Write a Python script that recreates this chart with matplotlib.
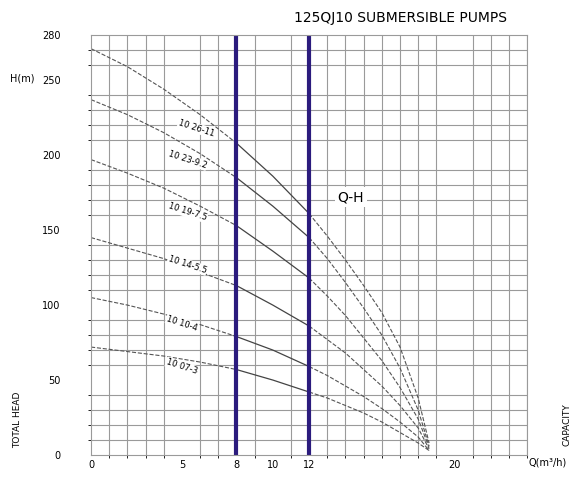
import matplotlib
matplotlib.use("Agg")
import matplotlib.pyplot as plt
import numpy as np

Q = [0, 2, 4, 6, 8, 10, 12, 13, 14, 15, 16, 17, 18, 18.6]
labels = ["10 26-11", "10 23-9.2", "10 19-7.5", "10 14-5.5", "10 10-4", "10 07-3"]
H_26 = [271, 259, 244, 227, 208, 186, 161, 146, 130, 113, 95, 72, 38, 8]
H_23 = [237, 227, 215, 201, 185, 166, 145, 131, 115, 98, 80, 58, 30, 6]
H_19 = [197, 188, 178, 166, 153, 136, 118, 106, 93, 78, 63, 45, 24, 5]
H_14 = [145, 138, 131, 122, 113, 100, 86, 77, 68, 57, 46, 33, 18, 4]
H_10 = [105, 100, 94, 87, 79, 70, 59, 53, 46, 39, 31, 22, 12, 3]
H_07 = [72, 69, 66, 62, 57, 50, 42, 38, 33, 28, 22, 15, 8, 3]
curves = [H_26, H_23, H_19, H_14, H_10, H_07]
label_pos = [(5.8, 218), (5.3, 197), (5.3, 162), (5.3, 127), (5.0, 88), (5.0, 59)]
yticks = [0, 50, 100, 150, 200, 250, 280]
xticks = [0, 5, 8, 10, 12, 20]

fig = plt.figure(figsize=(5.8, 4.82), dpi=100)
ax = fig.add_axes([0.157, 0.056, 0.752, 0.871])
ax.set_xlim(0, 24)
ax.set_ylim(0, 280)
ax.set_xticks(np.arange(0, 25, 1), minor=True)
ax.set_yticks(np.arange(0, 281, 10), minor=True)
ax.grid(which='minor', color='#9a9a9a', lw=0.8)
ax.set_xticks(xticks)
ax.set_yticks(yticks)
ax.tick_params(length=0, labelsize=7)
ax.tick_params(axis='y', pad=22)
for s in ax.spines.values():
    s.set_color('#9a9a9a')

for H in curves:
    Qa = np.array(Q); Ha = np.array(H)
    m1 = Qa <= 8; m2 = (Qa >= 8) & (Qa <= 12); m3 = Qa >= 12
    ax.plot(Qa[m1], Ha[m1], ls='--', color='#555555', lw=0.8)
    ax.plot(Qa[m2], Ha[m2], ls='-', color='#444444', lw=0.9)
    ax.plot(Qa[m3], Ha[m3], ls='--', color='#555555', lw=0.8)

for lab, (x, y) in zip(labels, label_pos):
    ax.text(x, y, lab, fontsize=6, rotation=-18, ha='center', va='center',
            bbox=dict(facecolor='white', edgecolor='none', pad=0.5))

for xv in [8, 12]:
    ax.axvline(xv, color='#2b1b7d', lw=3)

ax.text(14.3, 172, "Q-H", fontsize=10, ha='center', va='center',
        bbox=dict(facecolor='white', edgecolor='none', pad=2))

fig.text(0.69, 0.962, "125QJ10 SUBMERSIBLE PUMPS", fontsize=10, ha='center', va='center')
fig.text(0.038, 0.838, "H(m)", fontsize=7, ha='center', va='center')
fig.text(0.031, 0.13, "TOTAL HEAD", fontsize=6.5, rotation=90, ha='center', va='center')
fig.text(0.978, 0.12, "CAPACITY", fontsize=6.5, rotation=90, ha='center', va='center')
fig.text(0.945, 0.04, "Q(m³/h)", fontsize=7, ha='center', va='center')

fig.savefig("out.png", dpi=100)
